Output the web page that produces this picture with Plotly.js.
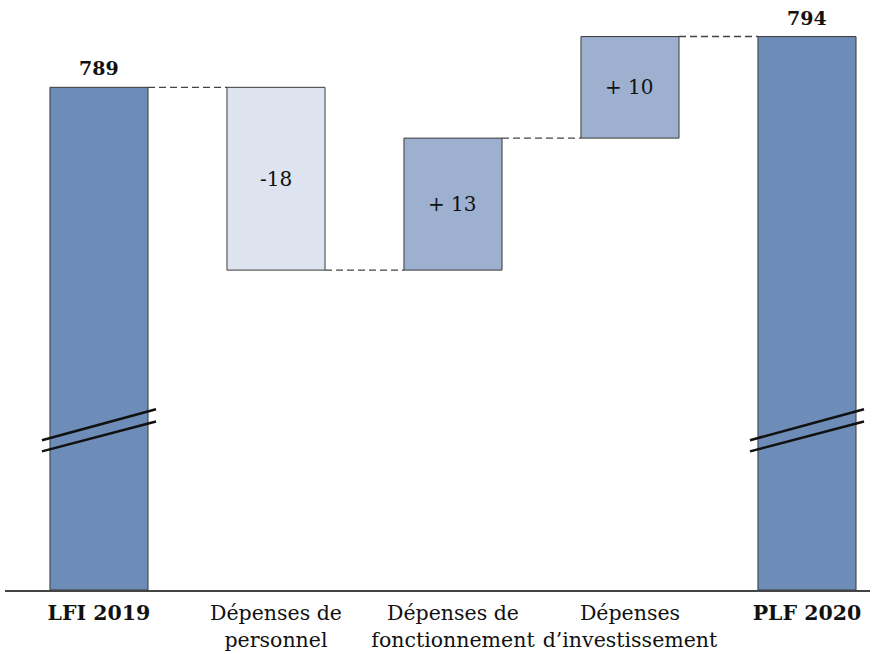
<!DOCTYPE html>
<html><head><meta charset="utf-8">
<script src="https://cdn.plot.ly/plotly-3.0.1.min.js"></script>
<style>html,body{margin:0;padding:0;background:#fff}#c{width:881px;height:654px}</style>
</head><body><div id="c"></div>
<script>
const categories = ["LFI 2019", "Dépenses de<br>personnel", "Dépenses de<br>fonctionnement", "Dépenses<br>d’investissement", "PLF 2020"];
const measures = ["total", "relative", "relative", "relative", "total"];
const values = [789, -18, 13, 10, 794];
const labels = ["789", "-18", "+ 13", "+ 10", "794"];
const axisFloor = 739.5;

const colTotal = "#6e8cb8", colDec = "#dee4ef", colInc = "#9eb0cf";
const xs = categories.map((_, i) => i);
const bases = [], heights = [], colors = [], tops = [];
let run = 0;
values.forEach((v, i) => {
  if (measures[i] === "total") {
    run = v;
    bases.push(axisFloor); heights.push(v - axisFloor); colors.push(colTotal);
  } else {
    const start = run; run += v;
    bases.push(Math.min(start, run)); heights.push(Math.abs(v)); colors.push(v < 0 ? colDec : colInc);
  }
  tops.push(run);
});

const font = "'DejaVu Serif', 'Liberation Serif', serif";
const bw = 0.554;
const shapes = [];
for (let i = 0; i < values.length - 1; i++) {
  shapes.push({type: "line", xref: "x", yref: "y", x0: i + bw/2, x1: i + 1 - bw/2, y0: tops[i], y1: tops[i],
    line: {color: "#444", width: 1.4, dash: "7px,4px"}});
}
measures.forEach((m, i) => {
  if (m === "total") {
    [[754.25, 757.3], [753.15, 756.1]].forEach(([a, b]) => {
      shapes.push({type: "line", xref: "x", yref: "y", x0: i - 0.322, x1: i + 0.322, y0: a, y1: b,
        line: {color: "#111", width: 2.5}});
    });
  }
});

const annotations = values.map((v, i) => {
  if (measures[i] === "total") {
    return {x: i, y: tops[i], yanchor: "bottom", yshift: 6, text: "<b>" + labels[i] + "</b>", showarrow: false,
      font: {family: font, size: 19, color: "#111"}};
  }
  return {x: i, y: bases[i] + heights[i] / 2, text: labels[i], showarrow: false,
    font: {family: font, size: 20, color: "#111"}};
});

const ticktext = categories.map((c, i) => measures[i] === "total" ? "<b>" + c + "</b>" : c);

Plotly.newPlot("c", [{
  type: "bar", x: xs, y: heights, base: bases, width: bw,
  marker: {color: colors, line: {color: "#3a3a3a", width: 1}},
  hoverinfo: "skip"
}], {
  width: 881, height: 654,
  margin: {l: 5, r: 11, t: 0, b: 64},
  paper_bgcolor: "#fff", plot_bgcolor: "#fff",
  showlegend: false,
  xaxis: {range: [-0.531, 4.356], tickvals: xs, ticktext: ticktext, showgrid: false, zeroline: false,
    showline: true, linecolor: "#444", linewidth: 1.5, ticks: "", ticklabelstandoff: 4,
    tickfont: {family: font, size: 20.5, color: "#111"}},
  yaxis: {range: [axisFloor, 797.6], visible: false, showgrid: false, zeroline: false},
  shapes: shapes, annotations: annotations
}, {staticPlot: true});
</script></body></html>
